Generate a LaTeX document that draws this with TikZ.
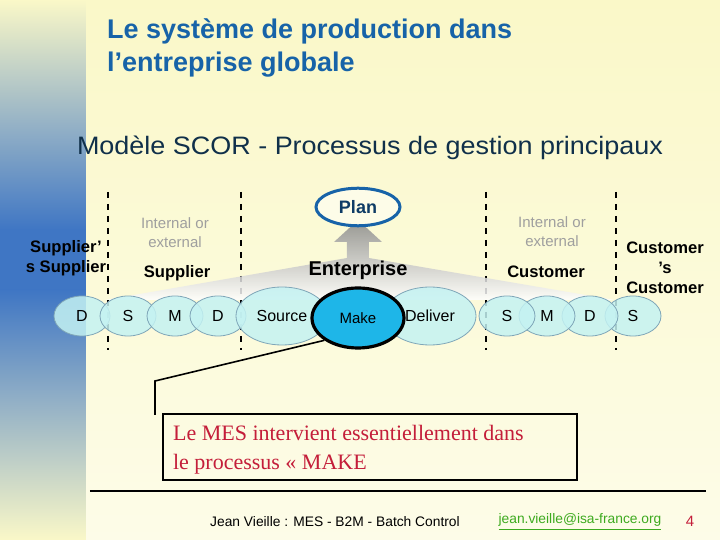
\documentclass[tikz,border=0pt]{standalone}
\usepackage{fontspec}
\setmainfont{Liberation Sans}
\newfontfamily\tms{Liberation Serif}
\usetikzlibrary{shapes.geometric}
\definecolor{bgy}{HTML}{FAF8C8}
\definecolor{bgy2}{HTML}{FDFCE8}
\definecolor{tblue}{HTML}{1763A8}
\definecolor{band}{HTML}{3F76C4}
\definecolor{cy}{HTML}{C4F2F2}
\definecolor{cyb}{HTML}{7FA6B8}
\definecolor{mk}{HTML}{1EB6E8}
\definecolor{red1}{HTML}{C41E3A}
\definecolor{grn}{HTML}{3DAA1E}
\definecolor{sub}{HTML}{10304A}
\tikzset{
  px/.style={x=0.5pt,y=-0.5pt},
  sm/.style={ellipse,draw=cyb,fill=cy,fill opacity=0.85,text opacity=1,minimum width=28pt,minimum height=20pt,inner sep=0pt,font=\fontsize{8}{9}\selectfont},
  bg/.style={ellipse,draw=cyb,fill=cy,fill opacity=0.85,text opacity=1,minimum width=46pt,minimum height=29pt,inner sep=0pt,font=\fontsize{8}{9}\selectfont},
  lab/.style={align=center,font=\fontsize{8.3}{10}\selectfont\bfseries},
  gl/.style={align=center,text=gray!75,font=\fontsize{7.5}{9.5}\selectfont},
  dl/.style={dashed,semithick,black}
}
\begin{document}
\begin{tikzpicture}[px]
\useasboundingbox (0,0) rectangle (720,540);
\shade[top color=bgy,bottom color=bgy2] (0,0) rectangle (720,540);
\shade[top color=bgy,bottom color=band] (0,0) rectangle (86,230);
\fill[band] (0,229) rectangle (86,291);
\shade[top color=band,bottom color=bgy] (0,290) rectangle (86,540);
% title
\node[anchor=west,text=tblue,align=left,font=\fontsize{13.5}{16.5}\selectfont\bfseries] (t) at (100,48) {Le système de production dans\\l’entreprise globale};
\node[text=sub,font=\fontsize{12.6}{14}\selectfont,xscale=1.07] (st) at (370,148) {Modèle SCOR - Processus de gestion principaux};
% dashed lines
\foreach \x/\n in {108/a,241/b,486/c,616/d}{
  \coordinate (\n1) at (\x,192); \coordinate (\n2) at (\x,350);
  \draw[dl] (\n1) -- (\n2);}
% gray fan arrow
\shade[top color=gray!95,bottom color=white,opacity=0.85]
  (358,220) -- (382,242) -- (369,242) -- (369,258) -- (615,300) -- (105,300) -- (347,258) -- (347,242) -- (334,242) -- cycle;
% plan
\node[ellipse,draw=tblue,line width=1.5pt,fill=bgy2,minimum width=42pt,minimum height=17pt,font=\fontsize{9}{10}\selectfont\bfseries,text=tblue!60!black] (plan) at (358,207) {Plan};
% chain
\node[sm] (d0) at (82,316) {D};
\node[sm] (s1) at (128,316) {S};
\node[sm] (m1) at (175,316) {M};
\node[sm] (d1) at (218,316) {D};
\node[sm] (s3) at (633,316) {S};
\node[sm] (d2) at (590,316) {D};
\node[sm] (m2) at (547,316) {M};
\node[sm] (s2) at (507,316) {S};
\node[bg] (src) at (282,316) {Source};
\node[bg] (del) at (430,316) {Deliver};
\node[ellipse,draw=black,line width=1.6pt,fill=mk,minimum width=46pt,minimum height=30pt,inner sep=0pt,font=\fontsize{7.5}{9}\selectfont] (make) at (358,318) {Make};
% labels
\node[lab] (ss) at (66,258) {Supplier’\\s Supplier};
\node[gl] (ie1) at (175,233) {Internal or\\external};
\node[lab] (sup) at (177,273) {Supplier};
\node[lab,font=\fontsize{10}{11}\selectfont\bfseries] (ent) at (358,270) {Enterprise};
\node[gl] (ie2) at (552,232) {Internal or\\external};
\node[lab] (cus) at (546,272) {Customer};
\node[lab] (cc) at (665,268) {Customer\\’s\\Customer};
% callout
\node[draw=black,line width=1pt,anchor=north west,minimum width=207pt,minimum height=33pt,inner sep=0pt] (box) at (162,413) {};
\node[anchor=north west,align=left,text=red1,font=\tms\fontsize{11}{14.5}\selectfont] (bt) at (166,418) {Le MES intervient essentiellement dans\\le processus « MAKE};
\coordinate (k1) at (155,381);
\coordinate (k2) at (155,415);
\draw[thick] (make.south west) -- (k1) -- (k2);
% footer
\coordinate (l1) at (90,491); \coordinate (l2) at (706,491);
\draw[line width=1pt] (l1) -- (l2);
\node[font=\fontsize{6.9}{8}\selectfont] (f1) at (335,522) {Jean Vieille : MES - B2M - Batch Control};
\node[text=grn,font=\fontsize{6.9}{8}\selectfont] (f2) at (580,522) {\underline{jean.vieille@isa-france.org}};
\node[text=red1,font=\fontsize{7.5}{8}\selectfont] (f3) at (690,521) {4};
\end{tikzpicture}
\end{document}
